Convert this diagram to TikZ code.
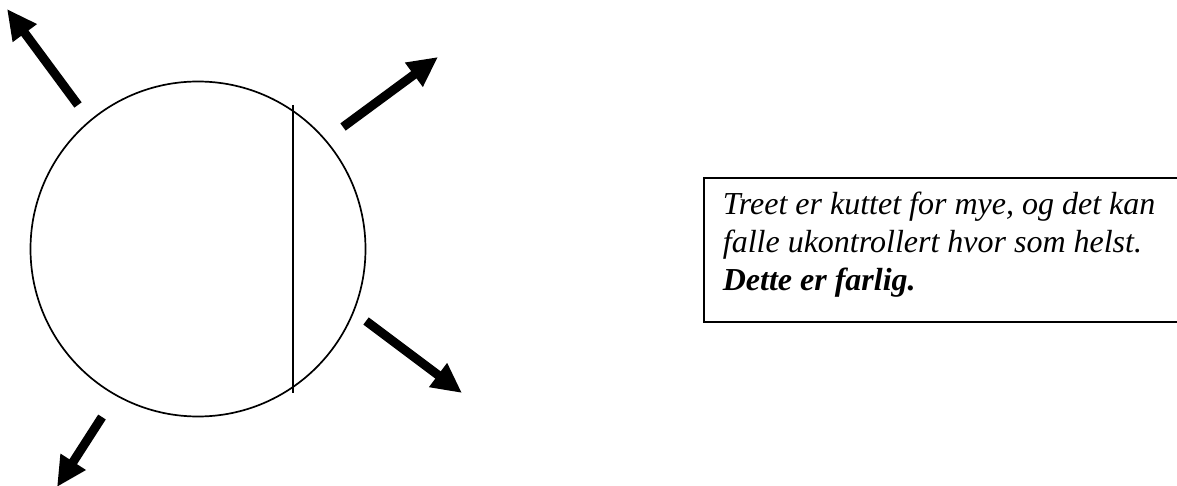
\documentclass[tikz,border=0pt]{standalone}
\usepackage{fontspec}
\setmainfont{Liberation Serif}
\usetikzlibrary{arrows.meta}
\tikzset{>=Triangle}
\tikzset{fall/.style={line width=9pt, -{Triangle[length=30pt,width=28pt]}}}

\begin{document}
\begin{tikzpicture}[x=1pt, y=-1pt, line width=1.7pt]
\useasboundingbox (0,0) rectangle (1177,486);
\node[circle, draw, minimum size=335pt, inner sep=0pt] (tree) at (198,249) {};
\coordinate (cuttop) at (293,105);
\coordinate (cutbot) at (293,393);
\draw[line width=2pt] (cuttop) -- (cutbot);
\coordinate (nwtail) at (78,105);
\coordinate (nwtip) at (7,9);
\coordinate (netail) at (343,127);
\coordinate (netip) at (438,57);
\coordinate (setail) at (366,321);
\coordinate (setip) at (462,393);
\coordinate (swtail) at (102,417);
\coordinate (swtip) at (57,487);
\draw[fall] (nwtail) -- (nwtip);
\draw[fall] (netail) -- (netip);
\draw[fall] (setail) -- (setip);
\draw[fall] (swtail) -- (swtip);
\node[draw, anchor=north west, minimum width=490pt, minimum height=144pt] (note) at (703,177) {};
\node[anchor=base west, align=left, inner sep=0pt, font=\fontsize{32}{37.5}\selectfont\itshape] (warning) at (722,290)
  {Treet er kuttet for mye, og det kan\\ falle ukontrollert hvor som helst.\\ \textbf{Dette er farlig.}};
\end{tikzpicture}
\end{document}
